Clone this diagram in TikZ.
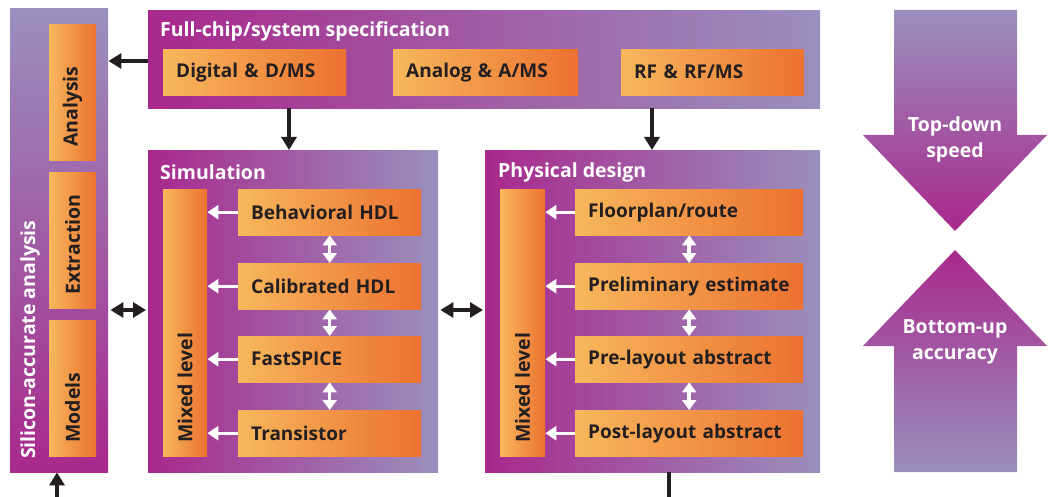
\documentclass[tikz,border=0pt]{standalone}
\usepackage{fontspec}
\setmainfont{Open Sans}
\usetikzlibrary{arrows.meta}
\definecolor{mag}{HTML}{A8288C}
\definecolor{lav}{HTML}{9A90BE}
\definecolor{orl}{HTML}{F7B75C}
\definecolor{ord}{HTML}{EC7130}
\definecolor{txt}{HTML}{231F20}
\tikzset{
  hpanel/.style={left color=mag, right color=lav, draw=none, inner sep=0pt, anchor=north west},
  vpanel/.style={top color=lav, bottom color=mag, draw=none, inner sep=0pt, anchor=north west},
  obox/.style={left color=orl, right color=ord, draw=none, inner sep=0pt,
    minimum height=46pt, align=left, anchor=north west, text=txt,
    execute at begin node={\hspace*{13pt}},
    font=\bfseries\fontsize{19}{22}\selectfont},
  vbox/.style={left color=orl, right color=ord, draw=none, inner sep=0pt, anchor=north west},
  vlabel/.style={rotate=90, anchor=west, text=txt, inner sep=0pt, font=\bfseries\fontsize{19.5}{22}\selectfont},
  title/.style={anchor=west, text=white, inner sep=0pt, font=\bfseries\fontsize{19.5}{22}\selectfont},
  blk/.style={line width=3.2pt, draw=txt, -{Triangle[length=13pt,width=15pt]}},
  blkd/.style={line width=3.2pt, draw=txt, {Triangle[length=13pt,width=15pt]}-{Triangle[length=13pt,width=15pt]}},
  wht/.style={line width=3.2pt, draw=white, -{Triangle[length=11pt,width=14pt]}},
  whtd/.style={line width=3.5pt, draw=white, {Triangle[length=10pt,width=14pt]}-{Triangle[length=10pt,width=14pt]}},
  bigtext/.style={text=white, align=center, font=\bfseries\fontsize{19.5}{26}\selectfont},
}
\begin{document}
\begin{tikzpicture}[x=1pt,y=-1pt]
\useasboundingbox (0,0) rectangle (1052,497);

% Left panel
\node[vpanel, minimum width=98pt, minimum height=464pt] (left) at (10,8) {};
\node[title, rotate=90, anchor=west] (silab) at (30,459) {Silicon-accurate analysis};
\node[vbox, minimum width=47pt, minimum height=136pt] (ana) at (49,24) {};
\node[vbox, minimum width=47pt, minimum height=136pt] (ext) at (49,172) {};
\node[vbox, minimum width=47pt, minimum height=136pt] (mod) at (49,320) {};
\node[vlabel] (analab) at (72.5,147) {Analysis};
\node[vlabel] (extlab) at (72.5,295) {Extraction};
\node[vlabel] (modlab) at (72.5,443) {Models};

% Top panel
\node[hpanel, minimum width=672pt, minimum height=98pt] (spec) at (148,10) {};
\node[title] (spectitle) at (160,31) {Full-chip/system specification};
\node[obox, text width=183pt] (dig) at (163,49) {Digital \& D/MS};
\node[obox, text width=185pt] (anl) at (393,49) {Analog \& A/MS};
\node[obox, text width=183pt] (rf) at (621,49) {RF \& RF/MS};

% Simulation panel
\node[hpanel, minimum width=290pt, minimum height=322pt] (sim) at (148,150) {};
\node[title] (simtitle) at (160,172) {Simulation};
\node[vbox, minimum width=44pt, minimum height=267pt] (smix) at (163,189) {};
\node[vlabel] (smixlab) at (185,443) {Mixed level};
\node[obox, text width=183pt] (beh) at (238,189) {Behavioral HDL};
\node[obox, text width=183pt] (cal) at (238,263) {Calibrated HDL};
\node[obox, text width=183pt] (fsp) at (238,336) {FastSPICE};
\node[obox, text width=183pt] (tra) at (238,410) {Transistor};

% Physical design panel
\node[hpanel, minimum width=335pt, minimum height=322pt] (phys) at (485,150) {};
\node[title] (phystitle) at (498,172) {Physical design};
\node[vbox, minimum width=45pt, minimum height=267pt] (pmix) at (500,189) {};
\node[vlabel] (pmixlab) at (522.5,443) {Mixed level};
\node[obox, text width=228pt] (flo) at (575,189) {Floorplan/route};
\node[obox, text width=228pt] (pre) at (575,263) {Preliminary estimate};
\node[obox, text width=228pt] (prl) at (575,336) {Pre-layout abstract};
\node[obox, text width=228pt] (pol) at (575,410) {Post-layout abstract};

% White arrows inside
\foreach \b in {beh,cal,fsp,tra} \draw[wht] (\b.west) -- (\b.west -| smix.east);
\foreach \b in {flo,pre,prl,pol} \draw[wht] (\b.west) -- (\b.west -| pmix.east);
\draw[whtd] (beh.south) -- (cal.north);
\draw[whtd] (cal.south) -- (fsp.north);
\draw[whtd] (fsp.south) -- (tra.north);
\draw[whtd] (flo.south) -- (pre.north);
\draw[whtd] (pre.south) -- (prl.north);
\draw[whtd] (prl.south) -- (pol.north);

% Black arrows
\coordinate (a1) at ([yshift=-51pt]spec.north west);
\draw[blk] (a1) -- (a1 -| left.east);
\coordinate (a2) at ([xshift=141pt]spec.south west);
\draw[blk] (a2) -- (a2 |- sim.north);
\coordinate (a3) at ([xshift=504pt]spec.south west);
\draw[blk] (a3) -- (a3 |- phys.north);
\coordinate (a4) at ([yshift=-160pt]sim.north west);
\draw[blkd, shorten <=2pt, shorten >=2pt] (a4 -| left.east) -- (a4);
\coordinate (a5) at ([yshift=-160pt]phys.north west);
\draw[blkd, shorten <=2pt, shorten >=2pt] (a5 -| sim.east) -- (a5);
\coordinate (bin) at (57,497);
\draw[blk] (bin) -- (bin |- left.south);
\coordinate (pout) at (669,497);
\draw[line width=3.2pt, draw=txt] (pout |- phys.south) -- (pout);

% Right big arrows
\shade[top color=lav, bottom color=mag] (894,10) -- (1017,10) -- (1017,135) -- (1047,135) -- (955,231) -- (863,135) -- (894,135) -- cycle;
\shade[top color=mag, bottom color=lav] (955,250) -- (1047,346) -- (1017,346) -- (1017,472) -- (894,472) -- (894,346) -- (863,346) -- cycle;
\node[bigtext] (td) at (955,139) {Top-down\\speed};
\node[bigtext] (bu) at (955,342) {Bottom-up\\accuracy};
\end{tikzpicture}
\end{document}
